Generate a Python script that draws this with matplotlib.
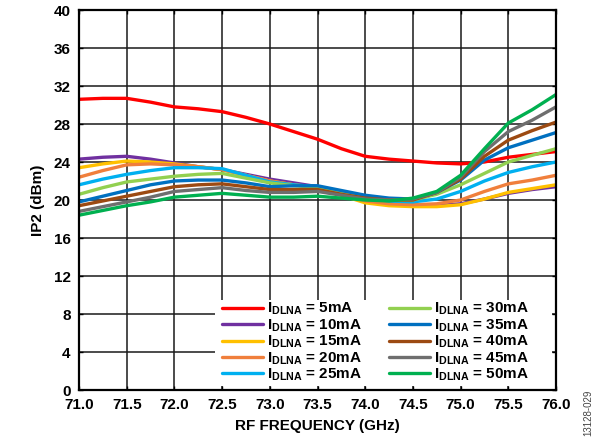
import matplotlib
matplotlib.use("Agg")
import matplotlib.pyplot as plt
from matplotlib.patches import Rectangle

plt.rcParams['font.family'] = ['Liberation Sans', 'DejaVu Sans']
plt.rcParams['mathtext.fontset'] = 'custom'
plt.rcParams['mathtext.rm'] = 'Liberation Sans:bold'
plt.rcParams['mathtext.bf'] = 'Liberation Sans:bold'
plt.rcParams['mathtext.it'] = 'Liberation Sans:bold'

freq = [71.0, 71.25, 71.5, 71.75, 72.0, 72.25, 72.5, 72.75, 73.0, 73.25, 73.5,
        73.75, 74.0, 74.25, 74.5, 74.75, 75.0, 75.25, 75.5, 75.75, 76.0]

ip2_5mA = [30.6, 30.7, 30.7, 30.3, 29.8, 29.6, 29.3, 28.7, 28.0, 27.2, 26.4,
           25.4, 24.6, 24.3, 24.1, 23.9, 23.8, 24.0, 24.5, 24.8, 25.1]
ip2_10mA = [24.3, 24.5, 24.6, 24.3, 23.9, 23.5, 23.2, 22.7, 22.2, 21.8, 21.4,
            20.9, 20.4, 19.9, 19.5, 19.4, 19.6, 20.1, 20.7, 21.1, 21.4]
ip2_15mA = [23.4, 23.8, 24.1, 24.0, 23.8, 23.5, 23.2, 22.6, 22.0, 21.6, 21.3,
            20.5, 19.7, 19.4, 19.3, 19.3, 19.5, 20.1, 20.8, 21.2, 21.6]
ip2_20mA = [22.4, 23.1, 23.7, 23.8, 23.7, 23.5, 23.2, 22.6, 22.0, 21.6, 21.3,
            20.6, 19.9, 19.6, 19.5, 19.6, 20.0, 20.9, 21.7, 22.1, 22.6]
ip2_25mA = [21.6, 22.2, 22.7, 23.1, 23.4, 23.4, 23.3, 22.6, 21.9, 21.6, 21.4,
            20.8, 20.2, 19.9, 19.8, 20.1, 20.9, 22.0, 22.9, 23.5, 24.0]
ip2_30mA = [20.6, 21.3, 21.9, 22.2, 22.5, 22.7, 22.8, 22.3, 21.8, 21.5, 21.4,
            20.8, 20.3, 20.0, 20.0, 20.6, 21.6, 22.8, 24.0, 24.7, 25.4]
ip2_35mA = [19.8, 20.4, 21.0, 21.6, 22.0, 22.1, 22.1, 21.8, 21.4, 21.5, 21.5,
            21.0, 20.5, 20.2, 20.1, 20.8, 22.1, 24.2, 25.5, 26.3, 27.1]
ip2_40mA = [19.4, 19.9, 20.4, 20.9, 21.4, 21.6, 21.7, 21.4, 21.1, 21.1, 21.1,
            20.6, 20.2, 20.0, 20.0, 20.8, 22.2, 24.6, 26.3, 27.3, 28.2]
ip2_45mA = [18.8, 19.3, 19.8, 20.3, 20.9, 21.1, 21.3, 21.0, 20.8, 20.8, 20.9,
            20.5, 20.1, 20.0, 20.1, 20.8, 22.4, 25.1, 27.2, 28.4, 29.8]
ip2_50mA = [18.4, 18.9, 19.4, 19.8, 20.3, 20.5, 20.7, 20.5, 20.3, 20.3, 20.4,
            20.2, 20.0, 19.9, 20.2, 20.9, 22.6, 25.4, 28.1, 29.5, 31.1]

currents = ['5mA', '10mA', '15mA', '20mA', '25mA', '30mA', '35mA', '40mA', '45mA', '50mA']
series = [ip2_5mA, ip2_10mA, ip2_15mA, ip2_20mA, ip2_25mA,
          ip2_30mA, ip2_35mA, ip2_40mA, ip2_45mA, ip2_50mA]
colors = ['#FF0000', '#7030A0', '#FFC000', '#F07F3C', '#00B0F0',
          '#92D050', '#0070C0', '#9C4A12', '#6E6E6E', '#00B050']

xticks = [71.0, 71.5, 72.0, 72.5, 73.0, 73.5, 74.0, 74.5, 75.0, 75.5, 76.0]
yticks = [0, 4, 8, 12, 16, 20, 24, 28, 32, 36, 40]

fig = plt.figure(figsize=(6.0, 4.44), dpi=100)
ax = fig.add_axes([79/600, 54/444, 477/600, 380/444])

for vals, cur, col in zip(series, currents, colors):
    ax.plot(freq, vals, color=col, lw=2.4, solid_capstyle='round',
            label=r'$\mathbf{I}_{\mathbf{DLNA}}$ = ' + cur)

ax.set_xlim(71.0, 76.0)
ax.set_ylim(0, 40)
ax.set_xticks(xticks)
ax.set_xticklabels([f'{t:.1f}' for t in xticks])
ax.set_yticks(yticks)
ax.grid(True, color='#1a1a1a', lw=1.1)
ax.set_axisbelow(True)
for s in ax.spines.values():
    s.set_linewidth(1.6)
    s.set_color('black')
ax.tick_params(direction='in', length=3, width=1.0, top=True, right=True,
               labelsize=11, pad=6)
for lab in ax.get_xticklabels() + ax.get_yticklabels():
    lab.set_fontweight('bold')

ax.set_xlabel('RF FREQUENCY (GHz)', fontsize=11, fontweight='bold', labelpad=5)
ax.set_ylabel('IP2 (dBm)', fontsize=11, fontweight='bold', labelpad=6)

# white legend background box
ax.add_patch(Rectangle((0.285, 0.0105), 0.707, 0.226, transform=ax.transAxes,
                       facecolor='white', edgecolor='none', zorder=3))

leg = ax.legend(loc='upper left', bbox_to_anchor=(0.2998, 0.234),
                ncol=2, fontsize=11, frameon=False,
                handlelength=2.68, handletextpad=0.26, labelspacing=0.0,
                borderpad=0, columnspacing=1.75, borderaxespad=0)
leg.set_zorder(4)
for t in leg.get_texts():
    t.set_fontweight('bold')
for h in leg.get_lines():
    h.set_linewidth(2.4)

fig.text(588/600, 1 - 413/444, '13128-029', rotation=90, fontsize=7,
         color='#444444', ha='center', va='center')

fig.savefig('out.png', dpi=100)
